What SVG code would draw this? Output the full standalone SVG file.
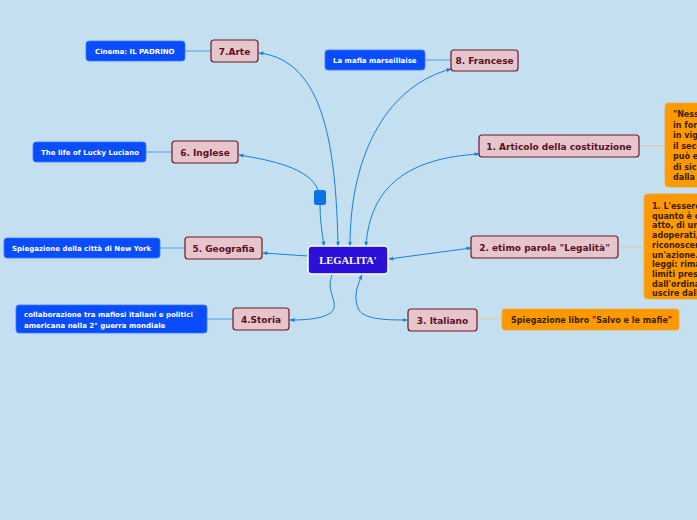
<svg xmlns="http://www.w3.org/2000/svg" width="697" height="520" viewBox="0 0 697 520">
<defs>
<marker id="arr" viewBox="0 0 10 10" refX="9" refY="5" markerWidth="5" markerHeight="5" orient="auto-start-reverse">
<path d="M0,1 L10,5 L0,9 z" fill="#1a7fd9"/>
</marker>
<style>
.main rect{fill:#e6c5cc;stroke:#6b1a2a;stroke-width:1.2}
.main text{font-family:"DejaVu Sans",Verdana,sans-serif;font-weight:bold;font-size:9px;fill:#5a0f1e;text-anchor:middle}
.leaf rect{fill:#0a4dff;stroke:#3d78ff;stroke-width:0.8}
.leaf text{font-family:"DejaVu Sans",Verdana,sans-serif;font-weight:bold;font-size:7px;fill:#ffffff}
.note rect{fill:#ff9900;stroke:#f3a530;stroke-width:0.8}
.note text{font-family:"DejaVu Sans",Verdana,sans-serif;font-weight:bold;font-size:8px;fill:#3a2200}
.conn path{fill:none;stroke:#1a7fd9;stroke-width:1}
.ll{stroke:#5a95e8;stroke-width:1}
.lo{stroke:#e2cd9c;stroke-width:1}
</style>
</defs>
<rect width="697" height="520" fill="#c3dff0"/>

<g id="connectors">
<g class="conn">
<path d="M338,246 C336,150 325,60 259,53" marker-start="url(#arr)" marker-end="url(#arr)"/>
<path d="M350,246 C350,150 390,85 451,69" marker-start="url(#arr)" marker-end="url(#arr)"/>
<path d="M366,246 C370,185 410,158 479,154" marker-start="url(#arr)" marker-end="url(#arr)"/>
<path d="M324,246 C322,232 320,220 320,205" marker-start="url(#arr)"/>
<path d="M318,190 C310,168 270,160 239,155" marker-end="url(#arr)"/>
<path d="M308,256 L263,253" marker-end="url(#arr)"/>
<path d="M389,259 L471,248" marker-start="url(#arr)" marker-end="url(#arr)"/>
<path d="M332,275 C326,290 336,298 334,308 C331,318 310,320 290,320" marker-end="url(#arr)"/>
<path d="M362,275 C355,290 354,300 359,310 C365,320 390,320 407,320" marker-start="url(#arr)" marker-end="url(#arr)"/>
</g>
<line class="ll" x1="185" y1="51" x2="211" y2="51"/>
<line class="ll" x1="425" y1="60" x2="451" y2="60"/>
<line class="ll" x1="146" y1="152" x2="172" y2="152"/>
<line class="ll" x1="160" y1="248" x2="185" y2="248"/>
<line class="ll" x1="207" y1="319" x2="233" y2="319"/>
<line class="lo" x1="477" y1="319" x2="502" y2="319"/>
<line class="lo" x1="639" y1="146" x2="665" y2="146"/>
<line class="lo" x1="618" y1="247" x2="644" y2="247"/>
</g>

<g id="hub"><rect x="314" y="190" width="12" height="15" rx="2.5" fill="#0a73e6"/></g>

<g id="legalita">
<rect x="308" y="246" width="80" height="28" rx="4" fill="#2a10d8" stroke="#ffffff" stroke-width="1.5"/>
<text x="348" y="264" font-family="'Liberation Serif','Times New Roman',serif" font-weight="bold" font-size="10.5" fill="#ffffff" text-anchor="middle">LEGALITA'</text>
</g>

<g id="arte" class="main"><rect x="211" y="40" width="47" height="22" rx="3"/><text x="234.5" y="54.5">7.Arte</text></g>
<g id="francese" class="main"><rect x="451" y="50" width="67" height="21" rx="3"/><text x="484.5" y="63.5">8. Francese</text></g>
<g id="articolo" class="main"><rect x="479" y="135" width="160" height="22" rx="3"/><text x="559" y="149.5">1. Articolo della costituzione</text></g>
<g id="inglese" class="main"><rect x="172" y="141" width="66" height="22" rx="3"/><text x="205" y="155.5">6. Inglese</text></g>
<g id="geografia" class="main"><rect x="185" y="237" width="77" height="22" rx="3"/><text x="223.5" y="251.5">5. Geografia</text></g>
<g id="etimo" class="main"><rect x="471" y="236" width="147" height="22" rx="3"/><text x="544.5" y="250.5">2. etimo parola "Legalità"</text></g>
<g id="storia" class="main"><rect x="233" y="308" width="56" height="22" rx="3"/><text x="261" y="322.5">4.Storia</text></g>
<g id="italiano" class="main"><rect x="408" y="309" width="69" height="22" rx="3"/><text x="442.5" y="323.5">3. Italiano</text></g>

<g id="cinema" class="leaf"><rect x="86" y="41" width="99" height="20" rx="3"/><text x="95" y="53.5">Cinema: IL PADRINO</text></g>
<g id="mafia" class="leaf"><rect x="325" y="50" width="100" height="20" rx="3"/><text x="333" y="62.5">La mafia marseillaise</text></g>
<g id="lucky" class="leaf"><rect x="33" y="142" width="113" height="20" rx="3"/><text x="41" y="154.5">The life of Lucky Luciano</text></g>
<g id="newyork" class="leaf"><rect x="4" y="238" width="156" height="20" rx="3"/><text x="12" y="250.5">Spiegazione della città di New York</text></g>
<g id="collab" class="leaf"><rect x="16" y="305" width="191" height="28" rx="3"/><text x="24" y="317">collaborazione tra mafiosi italiani e politici</text><text x="24" y="327.5">americana nella 2° guerra mondiale</text></g>

<g id="salvo" class="note"><rect x="502" y="309" width="177" height="21" rx="3"/><text x="511" y="322.5">Spiegazione libro "Salvo e le mafie"</text></g>
<g id="nessuno" class="note"><rect x="665" y="103" width="60" height="84" rx="4"/>
<text x="673" y="117">"Nessuno può</text>
<text x="673" y="127.5">in forza di una</text>
<text x="673" y="138">in vigore prima</text>
<text x="673" y="148.5">il secondo comma</text>
<text x="673" y="159">può essere</text>
<text x="673" y="169.5">di sicurezza</text>
<text x="673" y="180">dalla legge</text>
</g>
<g id="essere" class="note"><rect x="644" y="194" width="80" height="105" rx="4"/>
<text x="652" y="209">1. L'essere legale</text>
<text x="652" y="218.7">quanto è conforme</text>
<text x="652" y="228.4">atto, di un</text>
<text x="652" y="238.1">adoperati, ecc.</text>
<text x="652" y="247.8">riconoscere</text>
<text x="652" y="257.5">un'azione. 2.</text>
<text x="652" y="267.2">leggi: rimanere</text>
<text x="652" y="276.9">limiti prescritti</text>
<text x="652" y="286.6">dall'ordinamento</text>
<text x="652" y="296.3">uscire dalla</text>
</g>
</svg>
